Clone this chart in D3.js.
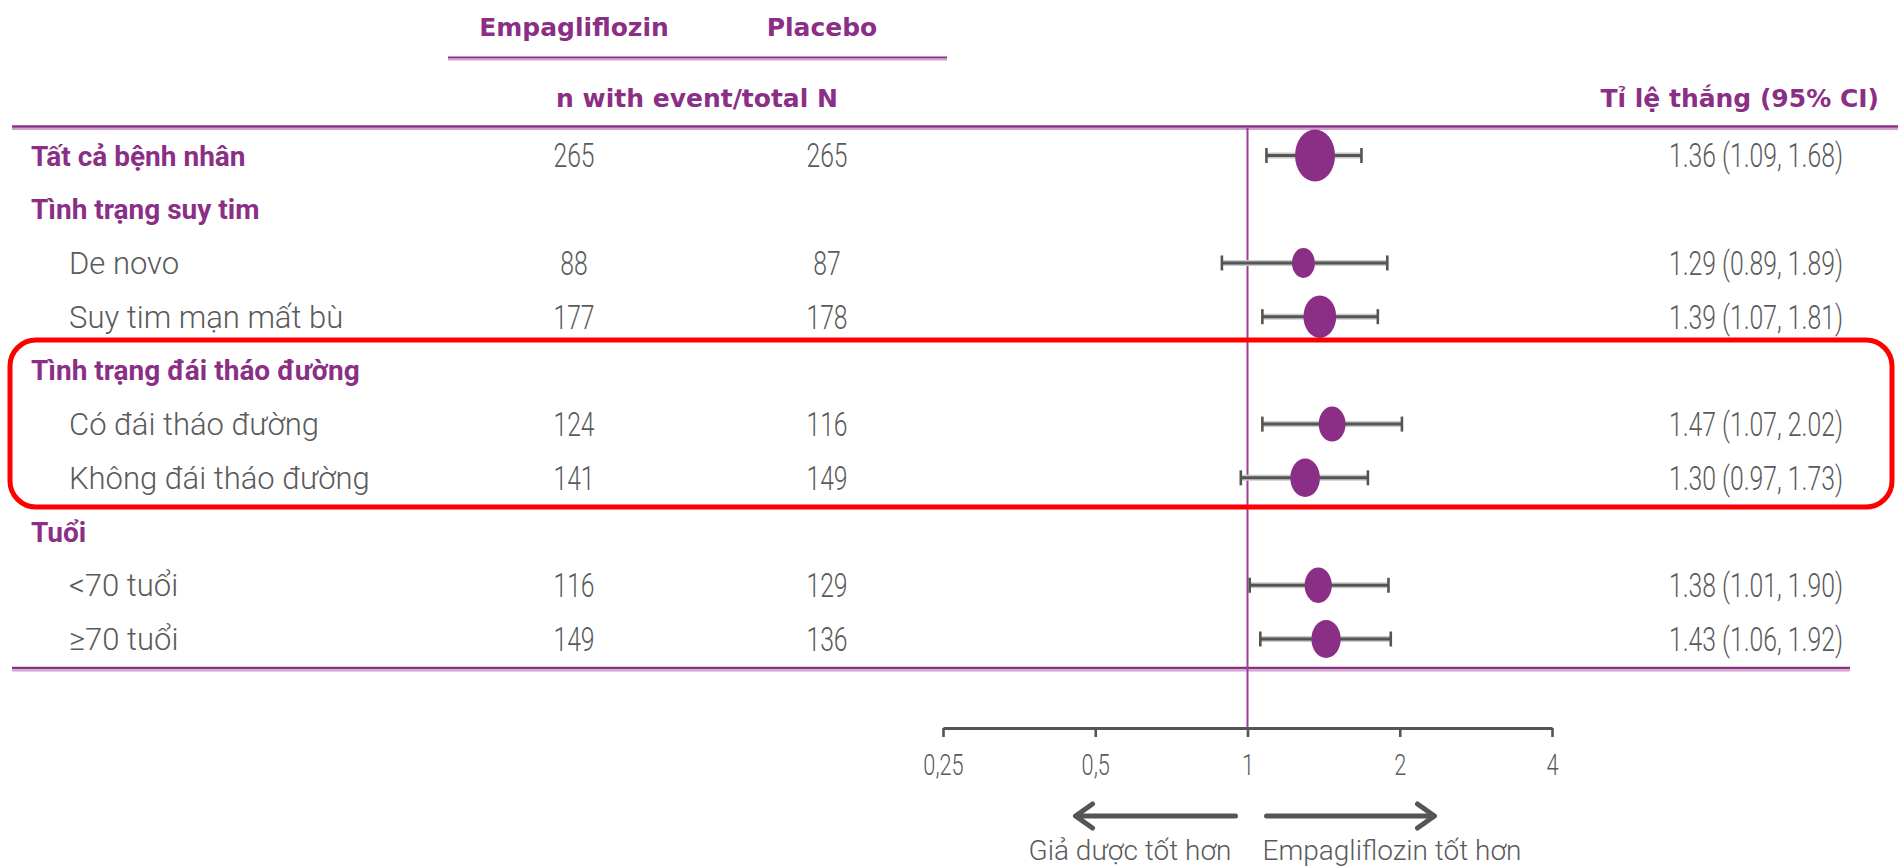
<!DOCTYPE html>
<html>
<head>
<meta charset="utf-8">
<script src="https://cdn.jsdelivr.net/npm/d3@7"></script>
<style>
  html, body { margin: 0; padding: 0; background: #ffffff; }
  svg { display: block; }
</style>
</head>
<body>
<svg id="chart" width="1898" height="867"></svg>
<script>
// Subgroup rows of the forest plot, top to bottom
const rowLabels = [
  "Tất cả bệnh nhân",
  "Tình trạng suy tim",
  "De novo",
  "Suy tim mạn mất bù",
  "Tình trạng đái tháo đường",
  "Có đái tháo đường",
  "Không đái tháo đường",
  "Tuổi",
  "<70 tuổi",
  "≥70 tuổi"
];
const rowIsHeader = [true, true, false, false, true, false, false, true, false, false];

// Patients per arm
const empaN    = [265, null, 88, 177, null, 124, 141, null, 116, 149];
const placeboN = [265, null, 87, 178, null, 116, 149, null, 129, 136];

// Win ratio with 95% CI
const winRatio = [1.36, null, 1.29, 1.39, null, 1.47, 1.30, null, 1.38, 1.43];
const ciLow    = [1.09, null, 0.89, 1.07, null, 1.07, 0.97, null, 1.01, 1.06];
const ciHigh   = [1.68, null, 1.89, 1.81, null, 2.02, 1.73, null, 1.90, 1.92];

// Axis ticks
const tickValues = [0.25, 0.5, 1, 2, 4];
const tickLabels = ["0,25", "0,5", "1", "2", "4"];

const PURPLE = "#8b2f86";
const GRAY = "#555555";
const TEXT_GRAY = "#5a5a5a";
const LABEL_FONT = "Roboto, 'Open Sans', sans-serif";
const BOLD_FONT = "'DejaVu Sans', 'Open Sans', sans-serif";
const ROW_BOLD_FONT = "Roboto, 'Open Sans', sans-serif";
const NUM_SQUEEZE = 0.75;

const svg = d3.select("#chart");

const rows = rowLabels.map((label, i) => ({
  i, label, header: rowIsHeader[i],
  empa: empaN[i], placebo: placeboN[i],
  wr: winRatio[i], lo: ciLow[i], hi: ciHigh[i]
}));

const x = d3.scaleLog().base(2).domain([0.25, 4]).range([943, 1552]);
const y = d3.scalePoint().domain(d3.range(rows.length)).range([155.5, 639]);
const r = d3.scaleSqrt().domain([0, 530]).range([0, 20]);

// ---- Column headers ----
const hdr = svg.append("g")
  .attr("fill", PURPLE)
  .attr("font-family", BOLD_FONT)
  .attr("font-weight", "bold")
  .attr("font-size", 25);

hdr.append("text").attr("x", 574).attr("y", 36).attr("text-anchor", "middle").text("Empagliflozin");
hdr.append("text").attr("x", 822).attr("y", 36).attr("text-anchor", "middle").text("Placebo");
hdr.append("text").attr("x", 697).attr("y", 107).attr("text-anchor", "middle").text("n with event/total N");
hdr.append("text").attr("x", 1879).attr("y", 107).attr("text-anchor", "end").text("Tỉ lệ thắng (95% CI)");

// underline below the arm names
svg.append("line").attr("x1", 448).attr("x2", 947).attr("y1", 57.5).attr("y2", 57.5)
  .attr("stroke", PURPLE).attr("stroke-width", 2.2);
svg.append("line").attr("x1", 448).attr("x2", 947).attr("y1", 59.8).attr("y2", 59.8)
  .attr("stroke", "#cfa3cc").attr("stroke-width", 1.6);

// table top and bottom rules
function rule(x1, x2, yy) {
  svg.append("line").attr("x1", x1).attr("x2", x2).attr("y1", yy).attr("y2", yy)
    .attr("stroke", PURPLE).attr("stroke-width", 2.4);
  svg.append("line").attr("x1", x1).attr("x2", x2).attr("y1", yy + 2.5).attr("y2", yy + 2.5)
    .attr("stroke", "#cfa3cc").attr("stroke-width", 2);
}
rule(12, 1898, 126.5);
rule(12, 1850, 668);

// reference line at win ratio 1
svg.append("line")
  .attr("x1", x(1)).attr("x2", x(1))
  .attr("y1", 128).attr("y2", 728)
  .attr("stroke", "#9c3f98").attr("stroke-width", 2);

// ---- Row labels ----
svg.append("g").selectAll("text")
  .data(rows)
  .join("text")
  .attr("x", d => d.header ? 31 : 69)
  .attr("y", d => y(d.i))
  .attr("dy", "0.36em")
  .attr("font-family", d => d.header ? ROW_BOLD_FONT : LABEL_FONT)
  .attr("font-weight", d => d.header ? "bold" : 300)
  .attr("font-size", d => d.header ? 28 : 31)
  .attr("fill", d => d.header ? PURPLE : TEXT_GRAY)
  .text(d => d.label);

const dataRows = rows.filter(d => d.wr != null);

// ---- Counts per arm ----
function numText(g, xPos, accessor, anchor) {
  g.selectAll("text")
    .data(dataRows)
    .join("text")
    .attr("transform", d => `translate(${xPos},${y(d.i)}) scale(${NUM_SQUEEZE},1)`)
    .attr("dy", "0.36em")
    .attr("text-anchor", anchor)
    .attr("font-family", LABEL_FONT)
    .attr("font-weight", 300)
    .attr("font-size", 33)
    .attr("fill", TEXT_GRAY)
    .text(accessor);
}
numText(svg.append("g"), 574, d => d.empa, "middle");
numText(svg.append("g"), 827, d => d.placebo, "middle");

const fmt = d3.format(".2f");
numText(svg.append("g"), 1843, d => `${fmt(d.wr)} (${fmt(d.lo)}, ${fmt(d.hi)})`, "end");

// ---- CI whiskers and point estimates ----
const marks = svg.append("g").selectAll("g")
  .data(dataRows)
  .join("g")
  .attr("transform", d => `translate(0,${y(d.i)})`);

marks.append("line")
  .attr("x1", d => x(d.lo)).attr("x2", d => x(d.hi))
  .attr("stroke", "#c8c8c8").attr("stroke-width", 6);
marks.append("line")
  .attr("x1", d => x(d.lo)).attr("x2", d => x(d.hi))
  .attr("stroke", GRAY).attr("stroke-width", 3);
marks.selectAll("line.cap")
  .data(d => [d.lo, d.hi])
  .join("line")
  .attr("class", "cap")
  .attr("x1", v => x(v)).attr("x2", v => x(v))
  .attr("y1", -7.5).attr("y2", 7.5)
  .attr("stroke", GRAY).attr("stroke-width", 2.6);
marks.append("ellipse")
  .attr("cx", d => x(d.wr))
  .attr("rx", d => r(d.empa + d.placebo))
  .attr("ry", d => r(d.empa + d.placebo) * 1.3)
  .attr("fill", PURPLE);

// ---- Win ratio axis ----
const axis = d3.axisBottom(x)
  .tickValues(tickValues)
  .tickFormat((d, i) => tickLabels[i])
  .tickSize(9)
  .tickSizeOuter(0);

const axisG = svg.append("g")
  .attr("transform", "translate(0,728)")
  .call(axis);
axisG.select(".domain").attr("stroke", GRAY).attr("stroke-width", 3);
axisG.selectAll(".tick line").attr("stroke", GRAY).attr("stroke-width", 2.6);
axisG.selectAll(".tick text")
  .attr("y", 37)
  .attr("dy", "0.36em")
  .attr("transform", `scale(${NUM_SQUEEZE},1)`)
  .attr("font-family", LABEL_FONT)
  .attr("font-weight", 300)
  .attr("font-size", 29)
  .attr("fill", TEXT_GRAY);

// ---- Direction arrows ----
const x1 = x(1);
const arrowY = 816;
const arrows = svg.append("g")
  .attr("stroke", GRAY).attr("stroke-width", 5)
  .attr("fill", "none").attr("stroke-linecap", "round").attr("stroke-linejoin", "round");
arrows.append("line").attr("x1", x1 - 12).attr("x2", x1 - 171).attr("y1", arrowY).attr("y2", arrowY);
arrows.append("path").attr("d", `M${x1 - 155},${arrowY - 12} L${x1 - 172},${arrowY} L${x1 - 155},${arrowY + 12}`);
arrows.append("line").attr("x1", x1 + 19).attr("x2", x1 + 186).attr("y1", arrowY).attr("y2", arrowY);
arrows.append("path").attr("d", `M${x1 + 170},${arrowY - 12} L${x1 + 187},${arrowY} L${x1 + 170},${arrowY + 12}`);

const dirText = svg.append("g")
  .attr("font-family", LABEL_FONT)
  .attr("font-weight", 300)
  .attr("font-size", 28)
  .attr("fill", TEXT_GRAY);
dirText.append("text").attr("x", x1 - 16).attr("y", 860).attr("text-anchor", "end").text("Giả dược tốt hơn");
dirText.append("text").attr("x", x1 + 15).attr("y", 860).attr("text-anchor", "start").text("Empagliflozin tốt hơn");

// ---- Highlight frame around the diabetes subgroup ----
svg.append("rect")
  .attr("x", 10).attr("y", 340)
  .attr("width", 1882).attr("height", 167)
  .attr("rx", 26).attr("ry", 26)
  .attr("fill", "none")
  .attr("stroke", "#ff0000")
  .attr("stroke-width", 5);
</script>
</body>
</html>
